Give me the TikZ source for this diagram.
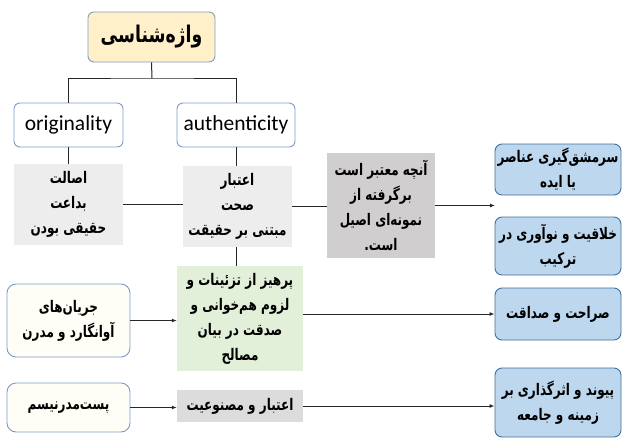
\documentclass[tikz,border=0pt]{standalone}
\usepackage{fontspec}
\setmainfont{Carlito}
\newfontfamily\fafont[Script=Arabic,FakeStretch=0.75]{DejaVu Sans}
\TeXXeTstate=1
\usetikzlibrary{arrows.meta}
\definecolor{titlefill}{HTML}{FFF0C9}
\definecolor{titleline}{HTML}{7F9CC8}
\definecolor{srcfill}{HTML}{FFFEF6}
\definecolor{lightgray}{HTML}{EDEDED}
\definecolor{midgray}{HTML}{D0CECE}
\definecolor{fakegray}{HTML}{DCDCDC}
\definecolor{greenfill}{HTML}{E2F0D9}
\definecolor{bluefill}{HTML}{BDD7EE}
\definecolor{blueline}{HTML}{41719C}
\newcommand{\fa}[1]{{\fafont\bfseries\beginR #1\endR}}
\begin{document}
\begin{tikzpicture}[x=1pt,y=-1pt,
    box/.style={align=center,inner sep=1pt,font=\fontsize{16}{25}\selectfont},
    titlebox/.style={box,draw=titleline,fill=titlefill,line width=0.9pt,rounded corners=6pt,
        minimum width=127,minimum height=50,font=\fontsize{23}{26}\selectfont},
    enbox/.style={box,draw=titleline,fill=white,line width=0.9pt,rounded corners=6pt,
        minimum height=44,font=\fontsize{21.5}{24}\selectfont},
    srcbox/.style={box,draw=titleline,fill=srcfill,line width=0.9pt,rounded corners=9pt,minimum width=123},
    graybox/.style={box,fill=lightgray,minimum width=109,minimum height=81},
    bluebox/.style={box,draw=blueline,fill=bluefill,line width=0.9pt,rounded corners=7pt,minimum width=126},
    line/.style={draw=black!85,line width=1pt},
    arrow/.style={line,-{Latex[length=5pt,width=4pt]}}]
    \useasboundingbox (0,0) rectangle (622,439);
    % top of the tree
    \node[titlebox] (title) at (151.5,37) {\fa{واژه‌شناسی}};
    \node[enbox,minimum width=109] (orig) at (68.5,125) {originality};
    \node[enbox,minimum width=118] (auth) at (236,125) {authenticity};
    \coordinate (split) at (152,78);
    \draw[line] (title.south) -- (split);
    \draw[line] (orig.north) |- (split) -| (auth.north);
    % meanings
    \node[graybox] (meanA) at (68.5,204.5) {\fa{اصالت}\\\fa{بداعت}\\\fa{حقیقی بودن}};
    \node[graybox] (meanB) at (237.5,206.5) {\fa{اعتبار}\\\fa{صحت}\\\fa{مبتنی بر حقیقت}};
    \node[box,fill=midgray,minimum width=108,minimum height=105] (meanC) at (381,205.5)
        {\fa{آنچه معتبر است}\\\fa{برگرفته از}\\\fa{نمونه‌ای اصیل}\\\fa{است.}};
    \draw[line] (orig.south) -- (meanA.north);
    \draw[line] (auth.south) -- (auth.south |- meanB.north);
    \draw[line] (meanA.east) -- (meanA.east -| meanB.west);
    \draw[line] (meanB.east) -- (meanB.east -| meanC.west);
    % results
    \node[bluebox,minimum height=51] (resA) at (558,169.5) {\fa{سرمشق‌گیری عناصر}\\\fa{یا ایده}};
    \node[bluebox,minimum height=58] (resB) at (558,246) {\fa{خلاقیت و نوآوری در}\\\fa{ترکیب}};
    \node[bluebox,minimum height=52] (resC) at (558,314) {\fa{صراحت و صداقت}};
    \node[bluebox,minimum height=69] (resD) at (558,402.5) {\fa{پیوند و اثرگذاری بر}\\\fa{زمینه و جامعه}};
    \coordinate (gap) at (495,204);
    \draw[arrow] (meanC.east) -- (meanC.east -| gap);
    % movements
    \node[box,fill=greenfill,minimum width=126,minimum height=105] (rule) at (240,318.5)
        {\fa{پرهیز از تزئینات و}\\\fa{لزوم هم‌خوانی و}\\\fa{صدقت در بیان}\\\fa{مصالح}};
    \node[srcbox,minimum height=73] (avant) at (68.5,320.5) {\fa{جریان‌های}\\\fa{آوانگارد و مدرن}};
    \node[srcbox,minimum height=49] (post) at (68.5,407.5) {\fa{پست‌مدرنیسم}};
    \node[box,fill=fakegray,minimum width=126,minimum height=32] (fake) at (240,406)
        {\fa{اعتبار و مصنوعیت}};
    \draw[line] (meanB.south -| auth.south) -- (auth.south |- rule.north);
    \draw[arrow] (avant.east) -- (avant.east -| rule.west);
    \draw[arrow] (rule.east |- resC.west) -- (resC.west);
    \draw[arrow] (post.east) -- (post.east -| fake.west);
    \draw[arrow] (fake.east) -- (fake.east -| resD.west);
\end{tikzpicture}
\end{document}
